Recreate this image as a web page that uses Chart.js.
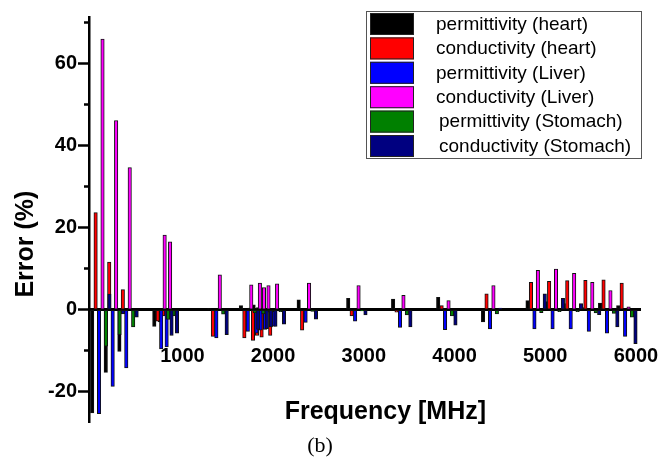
<!DOCTYPE html>
<html>
<head>
<meta charset="utf-8">
<script src="https://cdn.jsdelivr.net/npm/chart.js@4.4.1/dist/chart.umd.min.js"></script>
<style>
  html, body { margin: 0; padding: 0; background: #ffffff; }
  #wrap { width: 662px; height: 457px; position: relative; }
</style>
</head>
<body>
<div id="wrap"><canvas id="c" width="662" height="457"></canvas></div>
<script>
// ---- data ----
const frequencies = [100, 250, 400, 785, 845, 1393, 1740, 1835, 1880, 1930, 2025, 2377, 2923, 3418, 3915, 4410, 4900, 5100, 5300, 5500, 5700, 5900];
const permHeart    = [-25.2, -15.3, -10.2, -4.1, -3.0, 0.3, 1.0, 0.4, 1.2, 0.5, 0.3, 2.4, 2.8, 2.6, 3.0, -3.0, 2.2, 2.0, 1.5, 0.5, 1.6, 1.0];
const condHeart    = [23.7, 11.6, 4.9, -2.8, -1.5, -6.5, -6.9, -7.5, -6.3, -6.7, -6.3, -5.0, -1.5, -0.6, 1.0, 3.9, 6.7, 6.9, 7.1, 7.2, 7.3, 6.5];
const permLiver    = [-25.4, -18.7, -14.2, -9.6, -9.1, -6.9, -5.3, -5.7, -5.0, -4.8, -4.0, -3.1, -2.8, -4.3, -4.9, -4.7, -4.7, -4.7, -4.7, -5.3, -5.7, -6.5];
const condLiver    = [66.1, 46.2, 34.7, 18.2, 16.6, 8.5, 6.1, 6.5, 5.4, 5.9, 6.3, 6.5, 5.9, 3.5, 2.2, 5.9, 9.6, 9.9, 8.9, 6.7, 4.7, 0.7];
const permStomach  = [-8.9, -6.1, -4.2, -2.4, -1.5, -1.1, -0.8, -1.0, -0.6, -0.5, -0.5, -0.4, -0.3, -1.3, -1.5, -1.0, -0.7, -0.5, -0.5, -0.8, -0.9, -1.8];
const condStomach  = [3.8, -1.0, -1.8, -6.3, -5.7, -6.1, -4.8, -4.6, -4.2, -4.1, -3.5, -2.3, -1.3, -4.2, -3.8, 0.4, 3.9, 2.8, 1.5, -1.2, -4.2, -8.3];

const seriesLabels = ['permittivity (heart)', 'conductivity (heart)', 'permittivity (Liver)', 'conductivity (Liver)', 'permittivity (Stomach)', 'conductivity (Stomach)'];
const seriesValues = [permHeart, condHeart, permLiver, condLiver, permStomach, condStomach];
const seriesColors = ['#000000', '#FF0000', '#0000FF', '#FF00FF', '#008000', '#000080'];

const xTickValues = [1000, 2000, 3000, 4000, 5000, 6000];
const yTickValues = [-20, -10, 0, 10, 20, 30, 40, 50, 60, 70];
const yLabelledTicks = [-20, 0, 20, 40, 60];

// ---- chart ----
Chart.defaults.font.family = '"Liberation Sans", Arial, sans-serif';
Chart.defaults.color = '#000';

const datasets = seriesLabels.map((label, k) => ({
  label: label,
  data: frequencies.map((f, i) => ({ x: f, y: seriesValues[k][i] })),
  backgroundColor: seriesColors[k],
  borderColor: '#111111',
  borderWidth: 1,
  borderSkipped: false,
  barThickness: 3.45,
  grouped: true
}));

// draw the series in legend order so later series lie on top
const drawOrderPlugin = {
  id: 'drawOrder',
  beforeDatasetDraw() { return false; },
  afterDatasetsDraw(chart) {
    for (let i = 0; i < chart.data.datasets.length; i++) {
      const meta = chart.getDatasetMeta(i);
      if (meta.visible) meta.controller.draw();
    }
  }
};

const legendBoxPlugin = {
  id: 'legendBox',
  afterDraw(chart) {
    const ctx = chart.ctx;
    ctx.save();
    ctx.fillStyle = '#ffffff';
    ctx.fillRect(366, 11, 276, 148);
    ctx.strokeStyle = '#555555';
    ctx.lineWidth = 1;
    ctx.strokeRect(366.5, 11.5, 275, 147);
    ctx.font = '19px "Liberation Sans", Arial, sans-serif';
    ctx.textBaseline = 'middle';
    ctx.textAlign = 'left';
    chart.data.datasets.forEach((ds, i) => {
      const top = 13 + i * 24.4;
      ctx.fillStyle = ds.backgroundColor;
      ctx.fillRect(370, top, 44, 22);
      ctx.strokeStyle = '#222222';
      ctx.strokeRect(370.5, top + 0.5, 43, 21);
      ctx.fillStyle = '#000000';
      ctx.fillText(ds.label, i < 4 ? 436 : 439, top + 11.5);
    });
    ctx.restore();
  }
};

new Chart(document.getElementById('c'), {
  type: 'bar',
  data: { datasets: datasets },
  options: {
    responsive: false,
    animation: false,
    devicePixelRatio: 1,
    layout: { padding: { left: 0, right: 22, top: 17, bottom: 0 } },
    plugins: {
      legend: { display: false },
      tooltip: { enabled: false },
      title: {
        display: true,
        position: 'bottom',
        text: '(b)',
        color: '#000',
        font: { family: '"Liberation Serif", "Times New Roman", serif', size: 22, weight: 'normal' },
        padding: { top: 10, bottom: -2 }
      }
    },
    scales: {
      x: {
        type: 'linear',
        position: { y: 0 },
        min: -30,
        max: 6045,
        offset: false,
        z: 1,
        grid: { display: false, drawTicks: false },
        border: { display: true, color: '#000', width: 3 },
        ticks: {
          padding: 35,
          maxRotation: 0,
          autoSkip: false,
          color: '#000',
          font: { size: 20, weight: 'bold' },
          callback: v => String(v)
        },
        afterBuildTicks: s => { s.ticks = xTickValues.map(v => ({ value: v })); },
        afterFit: s => { s.height = 0; s.paddingLeft = 0; s.paddingRight = 0; },
        title: {
          display: true,
          text: '      Frequency [MHz]',
          color: '#000',
          font: { size: 25, weight: 'bold' },
          padding: { top: 0, bottom: -117 }
        }
      },
      y: {
        type: 'linear',
        position: 'left',
        min: -27.56,
        max: 71.46,
        grid: {
          display: true,
          drawOnChartArea: false,
          drawTicks: true,
          tickLength: 11,
          tickWidth: 2.5,
          tickColor: '#000',
          tickBorderDash: c => (c.tick && c.tick.value % 20 === 0) ? [] : [0, 6, 4, 100]
        },
        border: { display: true, color: '#000', width: 2.5 },
        ticks: {
          padding: 1,
          color: '#000',
          font: { size: 20, weight: 'bold' },
          callback: v => yLabelledTicks.includes(v) ? String(v) : ''
        },
        afterBuildTicks: s => { s.ticks = yTickValues.map(v => ({ value: v })); },
        afterFit: s => { s.width = 89; s.paddingTop = 0; s.paddingBottom = 0; },
        title: {
          display: true,
          text: 'Error (%)       ',
          color: '#000',
          font: { size: 25, weight: 'bold' },
          padding: { top: 11, bottom: 0 }
        }
      }
    }
  },
  plugins: [drawOrderPlugin, legendBoxPlugin]
});
</script>
</body>
</html>
